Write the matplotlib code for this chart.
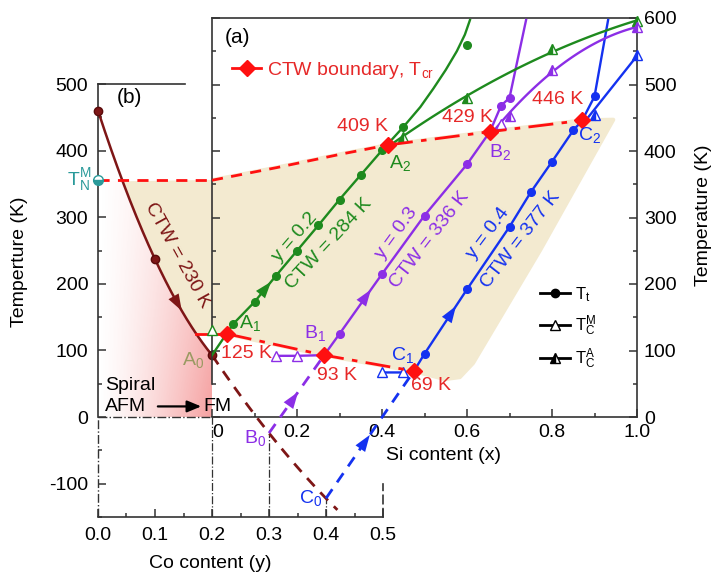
import numpy as np
import matplotlib
matplotlib.use("Agg")
import matplotlib.pyplot as plt
from matplotlib.lines import Line2D
from matplotlib.patches import Polygon
from matplotlib.ticker import MultipleLocator, FuncFormatter

plt.rcParams['font.family'] = ['Liberation Sans', 'DejaVu Sans']
plt.rcParams['mathtext.default'] = 'regular'
plt.rcParams['axes.unicode_minus'] = False
plt.rcParams['font.size'] = 14

# ---------------- data ----------------
# panel (b): Co content, Si = 0
co_tt = [0.0, 0.1, 0.2]
tt_co = [460, 237, 93]
co_ext = [0.2, 0.3, 0.4]          # extrapolated branch through A0, B0, C0
t_ext = [93, -24, -122]
co_ext_end = 0.42
tn_m = 356                          # T_N^M of the Co-free alloy

# panel (a): Si content, structural transition T_t
si_g = [0.05, 0.10, 0.15, 0.20, 0.25, 0.30, 0.35, 0.40, 0.45, 0.60]
tt_g = [140, 173, 212, 250, 288, 327, 364, 401, 436, 559]
si_p = [0.30, 0.40, 0.50, 0.60, 0.68, 0.70]
tt_p = [125, 215, 303, 380, 468, 480]
si_b = [0.50, 0.60, 0.70, 0.75, 0.80, 0.85, 0.90]
tt_b = [95, 192, 286, 338, 384, 431, 482]

# upper run of each T_t line above the last measured point on it
g_top_si, g_top_t = [0.49, 0.521, 0.55, 0.576, 0.595, 0.607], [466, 494, 522, 550, 575, 597]
p_top_si, p_top_t = [0.739], [597]
b_top_si, b_top_t = [0.932], [597]

# Curie temperatures of austenite
si_ca_g, tc_a_g = [0.45, 0.60, 0.80, 1.00], [421, 479, 553, 595]
si_ca_p, tc_a_p = [0.70, 0.80, 1.00], [452, 522, 586]
si_ca_b, tc_a_b = [0.90, 1.00], [454, 545]
# Curie temperatures of martensite
si_cm_g, tc_m_g = [0.0], [131]
si_cm_p, tc_m_p = [0.15, 0.20], [92, 92]
si_cm_b, tc_m_b = [0.40, 0.45], [67, 67]
si_cm_p2, tc_m_p2 = [0.68], [440]

# CTW boundary, T_cr
tcr_low_si, tcr_low_t = [0.035, 0.264, 0.475], [125, 93, 69]
tcr_high_si, tcr_high_t = [0.414, 0.654, 0.871], [409, 429, 446]
upper_si, upper_t = [0.0, 0.152, 0.309, 0.414], [356, 375, 396, 409]
# outline of the CTW region on its right-hand side
shade_si = [0.944, 0.772, 0.614, 0.583, 0.548]
shade_t = [447, 251, 81, 60, 57]

# Si-axis tick labels
si_ticks = [0.0, 0.2, 0.4, 0.6, 0.8, 1.0]
si_tick_labels = ['0', '0.2', '0.4', '0.6', '0.8', '1.0']

GREEN = '#1e8a1e'
PURPLE = '#8c2ee6'
BLUE = '#1432f0'
RED = '#ff1010'
RED_TXT = '#e62828'
BROWN = '#7e1616'
TEAL = '#2a9a9a'
OLIVE = '#9a9a62'
BEIGE = '#f3ead0'
SPINE = '#333333'

fig = plt.figure(figsize=(7.2, 5.79), dpi=100)
axb = fig.add_axes([98 / 720, 62 / 579, 285 / 720, 433 / 579])
axa = fig.add_axes([212 / 720, 162 / 579, 425 / 720, 399 / 579])
for ax in (axa, axb):
    ax.set_facecolor('none')
    for s in ax.spines.values():
        s.set_color(SPINE)
        s.set_linewidth(1.2)

# ---------------- panel (b) ----------------
fit_b = np.poly1d(np.polyfit(co_tt, tt_co, 2))
fit_ext = np.poly1d(np.polyfit(co_ext, t_ext, 2))
cgrid = np.linspace(0, 0.2, 200)
tgrid = fit_b(cgrid)

# pink gradient under the Co line
nx, ny = 240, 240
C, T = np.meshgrid(np.linspace(0, 0.2, nx), np.linspace(0, tn_m, ny))
rgba = np.zeros((ny, nx, 4))
rgba[..., 0], rgba[..., 1], rgba[..., 2] = 0.93, 0.32, 0.32
rgba[..., 3] = 0.55 * (C / 0.2) ** 1.3 * (1 - 0.5 * T / tn_m)
im = axb.imshow(rgba, extent=[0, 0.2, 0, tn_m], origin='lower', aspect='auto', zorder=0.5)
sel = tgrid <= tn_m
clip_verts = [(0, 0), (0, tn_m)] + list(zip(cgrid[sel], tgrid[sel])) + [(0.2, 0)]
clip = Polygon(clip_verts, transform=axb.transData, facecolor='none', edgecolor='none')
axb.add_patch(clip)
im.set_clip_path(clip)

# beige part of the CTW region in panel (b)
selb = (tgrid <= tn_m) & (tgrid >= tcr_low_t[0])
bverts = list(zip(cgrid[selb], tgrid[selb])) + [(0.2, tcr_low_t[0]), (0.2, tn_m)]
axb.add_patch(Polygon(bverts, facecolor=BEIGE, edgecolor='none', zorder=0.3))

axb.plot(cgrid, tgrid, color=BROWN, lw=1.8, zorder=3)
cext = np.linspace(0.2, co_ext_end, 60)
axb.plot(cext, fit_ext(cext), color=BROWN, lw=2, ls=(0, (4, 3)), zorder=3)
axb.plot(co_tt, tt_co, 'o', color=BROWN, ms=6, mec='#5a0a0a', zorder=4, clip_on=False)
axb.plot([0], [tn_m], 'o', ms=7, color=TEAL, fillstyle='bottom', mfc=TEAL,
         markerfacecoloralt='white', mec=TEAL, zorder=5, clip_on=False)
axb.text(-0.012, tn_m, r'T$_N^M$', color=TEAL, ha='right', va='center', fontsize=14)

# upper boundary across panel (b), and 125 K line to the Co branch
axb.plot([0, 0.2], [tn_m, tn_m], color=RED, lw=2, ls=(0, (4, 3)), zorder=3)
c125 = min(r.real for r in (fit_b - tcr_low_t[0]).roots if 0 <= r.real <= 0.2)
axb.plot([c125, 0.2], [tcr_low_t[0]] * 2, color=RED, lw=2, zorder=3)

# guides below zero
axb.vlines(0, -150, 0, color=SPINE, lw=1, ls='-.', clip_on=False)
axb.hlines(0, 0, 0.2, color=SPINE, lw=1, ls='-.')
axb.vlines(co_ext, -150, [0, t_ext[1], t_ext[2]], color=SPINE, lw=0.9, ls='-.')


def arrow_on(ax, xs, ys, x0, color, dx=0.01, ms=15):
    y1 = np.interp(x0 - dx, xs, ys)
    y2 = np.interp(x0 + dx, xs, ys)
    ax.annotate('', xy=(x0 + dx, y2), xytext=(x0 - dx, y1),
                arrowprops=dict(arrowstyle='-|>,head_length=0.8,head_width=0.28',
                                color=color, lw=0, shrinkA=0, shrinkB=0, mutation_scale=ms),
                annotation_clip=False, zorder=5)


arrow_on(axb, cgrid, tgrid, 0.141, BROWN, dx=0.006)

axb.text(0.140, 243, 'CTW = 230 K', color=BROWN, rotation=-61, rotation_mode='anchor',
         ha='center', va='center', fontsize=14)
axb.text(0.056, 479, '(b)', ha='center', va='center', fontsize=15)
axb.text(0.167, 86, r'A$_0$', color=OLIVE, ha='center', va='center', fontsize=14)
axb.text(0.012, 48, 'Spiral', ha='left', va='center', fontsize=14)
axb.text(0.012, 16, 'AFM', ha='left', va='center', fontsize=14)
axb.annotate('', xy=(0.181, 16), xytext=(0.105, 16),
             arrowprops=dict(arrowstyle='-|>,head_length=0.6,head_width=0.25', color='k',
                             lw=1.6, shrinkA=0, shrinkB=0, mutation_scale=14))
axb.text(0.185, 16, 'FM', ha='left', va='center', fontsize=14)

axb.set_xlim(0, 0.5)
axb.set_ylim(-150, 500)
axb.spines['left'].set_bounds(0, 500)
axb.spines['top'].set_bounds(0, 0.153)
axb.spines['right'].set_bounds(-150, -100)
axb.spines['right'].set_linestyle((0, (5, 3)))
axb.xaxis.set_major_locator(MultipleLocator(0.1))
axb.xaxis.set_minor_locator(MultipleLocator(0.05))
axb.xaxis.set_major_formatter(FuncFormatter(lambda v, p: f'{v:.1f}'))
axb.yaxis.set_major_locator(MultipleLocator(100))
axb.yaxis.set_minor_locator(MultipleLocator(50))
axb.tick_params(which='both', direction='in', top=False, right=False, color=SPINE, width=1.1)
axb.tick_params(which='major', length=6, labelsize=14, pad=7)
axb.tick_params(which='minor', length=3)
axb.set_ylabel('Temperture (K)', fontsize=14)
axb.yaxis.set_label_coords(-0.246, 0.589)
axb.set_xlabel('Co content (y)', fontsize=14)
axb.xaxis.set_label_coords(0.393, -0.088)

# ---------------- panel (a) ----------------
axa.set_xlim(0, 1)
axa.set_ylim(0, 600)

# beige CTW region
verts = [(0, tcr_low_t[0])]
verts += list(zip(upper_si, upper_t))
verts += list(zip(tcr_high_si[1:], tcr_high_t[1:]))
verts += list(zip(shade_si, shade_t))
verts += list(zip(tcr_low_si[::-1], tcr_low_t[::-1]))
axa.add_patch(Polygon(verts, facecolor=BEIGE, edgecolor=BEIGE, lw=3, joinstyle='round', zorder=0.2))

# T_t lines
A0 = (co_tt[2], tt_co[2])
g_line_si = [0.0] + si_g[:9] + g_top_si
g_line_t = [A0[1]] + tt_g[:9] + g_top_t
p_line_si = [tcr_low_si[1]] + si_p[:4] + [tcr_high_si[1]] + si_p[4:] + p_top_si
p_line_t = [tcr_low_t[1]] + tt_p[:4] + [tcr_high_t[1]] + tt_p[4:] + p_top_t
b_line_si = [tcr_low_si[2]] + si_b[:6] + [tcr_high_si[2]] + si_b[6:] + b_top_si
b_line_t = [tcr_low_t[2]] + tt_b[:6] + [tcr_high_t[2]] + tt_b[6:] + b_top_t
for xs, ys, c in ((g_line_si, g_line_t, GREEN), (p_line_si, p_line_t, PURPLE),
                  (b_line_si, b_line_t, BLUE)):
    axa.plot(xs, ys, color=c, lw=1.7, zorder=3)
for xs, ys, c in ((si_g, tt_g, GREEN), (si_p, tt_p, PURPLE), (si_b, tt_b, BLUE)):
    axa.plot(xs, ys, 'o', color=c, ms=5.5, zorder=4)
arrow_on(axa, g_line_si, g_line_t, 0.129, GREEN)
arrow_on(axa, p_line_si, p_line_t, 0.364, PURPLE)
arrow_on(axa, b_line_si, b_line_t, 0.564, BLUE)

# dashed extrapolations from B0 and C0 (panel b) to B1 and C1
to_a = lambda x, y: axa.transData.inverted().transform(axb.transData.transform((x, y)))
for co, t0, si1, t1, c, frac in ((co_ext[1], t_ext[1], tcr_low_si[1], tcr_low_t[1], PURPLE, 0.45),
                                   (co_ext[2], t_ext[2], tcr_low_si[2], tcr_low_t[2], BLUE, 0.45)):
    x0, y0 = to_a(co, t0)
    axa.plot([x0, si1], [y0, t1], color=c, lw=2, ls=(0, (4, 3)), clip_on=False, zorder=3)
    xm = x0 + frac * (si1 - x0)
    arrow_on(axa, [x0, si1], [y0, t1], xm, c)

# Curie temperature lines
tri_a = dict(marker='^', ms=6.5, fillstyle='left', markerfacecoloralt='white', lw=0, zorder=4,
             clip_on=False)
tri_m = dict(marker='^', ms=6.5, mfc='white', lw=0, zorder=4, clip_on=False)
for x0, t0, xs, ys, c, deg in ((tcr_high_si[0], tcr_high_t[0], si_ca_g, tc_a_g, GREEN, 2),
                               (tcr_high_si[1], tcr_high_t[1], si_cm_p2 + si_ca_p, tc_m_p2 + tc_a_p, PURPLE, 2),
                               (tcr_high_si[2], tcr_high_t[2], si_ca_b, tc_a_b, BLUE, 1)):
    fx = [x0] + list(xs)
    fy = [t0] + list(ys)
    f = np.poly1d(np.polyfit(fx, fy, deg))
    xx = np.linspace(x0, 1.0, 100)
    axa.plot(xx, f(xx), color=c, lw=1.7, zorder=3, clip_on=False)
axa.plot(si_ca_g, tc_a_g, color=GREEN, mec=GREEN, mfc=GREEN, **tri_a)
axa.plot(si_ca_p, tc_a_p, color=PURPLE, mec=PURPLE, mfc=PURPLE, **tri_a)
axa.plot(si_ca_b, tc_a_b, color=BLUE, mec=BLUE, mfc=BLUE, **tri_a)
axa.plot(si_cm_p2, tc_m_p2, color=PURPLE, mec=PURPLE, **tri_m)

axa.plot(si_cm_p + [tcr_low_si[1]], tc_m_p + [tcr_low_t[1]], color=PURPLE, lw=1.7, zorder=3)
axa.plot(si_cm_b + [tcr_low_si[2]], tc_m_b + [tcr_low_t[2]], color=BLUE, lw=1.7, zorder=3)
axa.plot(si_cm_p, tc_m_p, color=PURPLE, mec=PURPLE, **tri_m)
axa.plot(si_cm_b, tc_m_b, color=BLUE, mec=BLUE, **tri_m)
axa.plot(si_cm_g, tc_m_g, color=GREEN, mec=GREEN, **tri_m)

# CTW boundary
axa.plot([0, tcr_low_si[0]], [tcr_low_t[0]] * 2, color=RED, lw=2, zorder=3)
axa.plot(upper_si, upper_t, color=RED, lw=2, ls=(0, (4, 3)), zorder=3)
dd = (0, (9, 3, 2, 3))
axa.plot(tcr_low_si, tcr_low_t, color=RED, lw=2, ls=dd, marker='D', ms=8, zorder=5)
axa.plot(tcr_high_si, tcr_high_t, color=RED, lw=2, ls=dd, marker='D', ms=8, zorder=5)

lab_pos = [(0.354, 437), (0.602, 451), (0.814, 477), (0.081, 95), (0.295, 63), (0.515, 47)]
for (x, y), t in zip(lab_pos, tcr_high_t + tcr_low_t):
    axa.text(x, y, f'{t} K', color=RED_TXT, ha='center', va='center', fontsize=14, zorder=6)

# point labels
for (x, y), txt, c in (((0.089, 141), r'A$_1$', GREEN), ((0.442, 382), r'A$_2$', GREEN),
                       ((0.101, -32), r'B$_0$', PURPLE), ((0.242, 126), r'B$_1$', PURPLE),
                       ((0.678, 399), r'B$_2$', PURPLE), ((0.231, -122), r'C$_0$', BLUE),
                       ((0.449, 93), r'C$_1$', BLUE), ((0.889, 424), r'C$_2$', BLUE)):
    axa.text(x, y, txt, color=c, ha='center', va='center', fontsize=14, zorder=6, clip_on=False)

# line annotations
for (x, y), txt, c, rot in (((0.195, 271), 'y = 0.2', GREEN, 49), ((0.274, 261), 'CTW = 284 K', GREEN, 47),
                            ((0.435, 276), 'y = 0.3', PURPLE, 54), ((0.513, 266), 'CTW = 336 K', PURPLE, 52),
                            ((0.650, 276), 'y = 0.4', BLUE, 53), ((0.725, 266), 'CTW = 377 K', BLUE, 52)):
    axa.text(x, y, txt, color=c, rotation=rot, rotation_mode='anchor', ha='center', va='center',
             fontsize=14, zorder=6)

axa.text(0.059, 571, '(a)', ha='center', va='center', fontsize=15)

leg1 = axa.legend(handles=[Line2D([0], [0], color=RED, lw=2, marker='D', ms=8)],
                  labels=[r'CTW boundary, T$_{cr}$'], loc='upper left',
                  bbox_to_anchor=(0.047, 0.895), frameon=False, borderpad=0, borderaxespad=0,
                  handlelength=1.5, handletextpad=0.3, fontsize=14, labelcolor=RED_TXT)
axa.add_artist(leg1)
hs = [Line2D([0], [0], color='k', lw=2, marker='o', ms=6),
      Line2D([0], [0], color='k', lw=2, marker='^', ms=6.5, mfc='white', mec='k'),
      Line2D([0], [0], color='k', lw=2, marker='^', ms=6.5, fillstyle='left',
             markerfacecoloralt='white', mec='k')]
axa.legend(handles=hs, labels=[r'T$_t$', r'T$_C^M$', r'T$_C^A$'], loc='upper left',
           bbox_to_anchor=(0.772, 0.33), frameon=False, borderpad=0, borderaxespad=0,
           handlelength=1.8, handletextpad=0.3, fontsize=12, labelspacing=0.55)

axa.spines['left'].set_bounds(50, 600)
axa.set_xticks(si_ticks)
axa.set_xticklabels(si_tick_labels)
axa.xaxis.set_minor_locator(MultipleLocator(0.1))
axa.yaxis.set_major_locator(MultipleLocator(100))
axa.yaxis.set_minor_locator(MultipleLocator(50))
axa.tick_params(which='both', direction='in', left=True, right=True, top=False, bottom=True,
                labelleft=False, labelright=True, color=SPINE, width=1.1)
axa.tick_params(which='major', length=6, labelsize=14, pad=5)
axa.tick_params(which='minor', length=3)
axa.yaxis.set_label_position('right')
axa.set_ylabel('Temperature (K)', fontsize=14)
axa.yaxis.set_label_coords(1.136, 0.506)
axa.set_xlabel('Si content (x)', fontsize=14)
axa.xaxis.set_label_coords(0.544, -0.075)

# the "0" of the Si axis sits just right of the panel edge
axa.get_xticklabels()[0].set_horizontalalignment('left')

fig.savefig('out.png', dpi=100)
